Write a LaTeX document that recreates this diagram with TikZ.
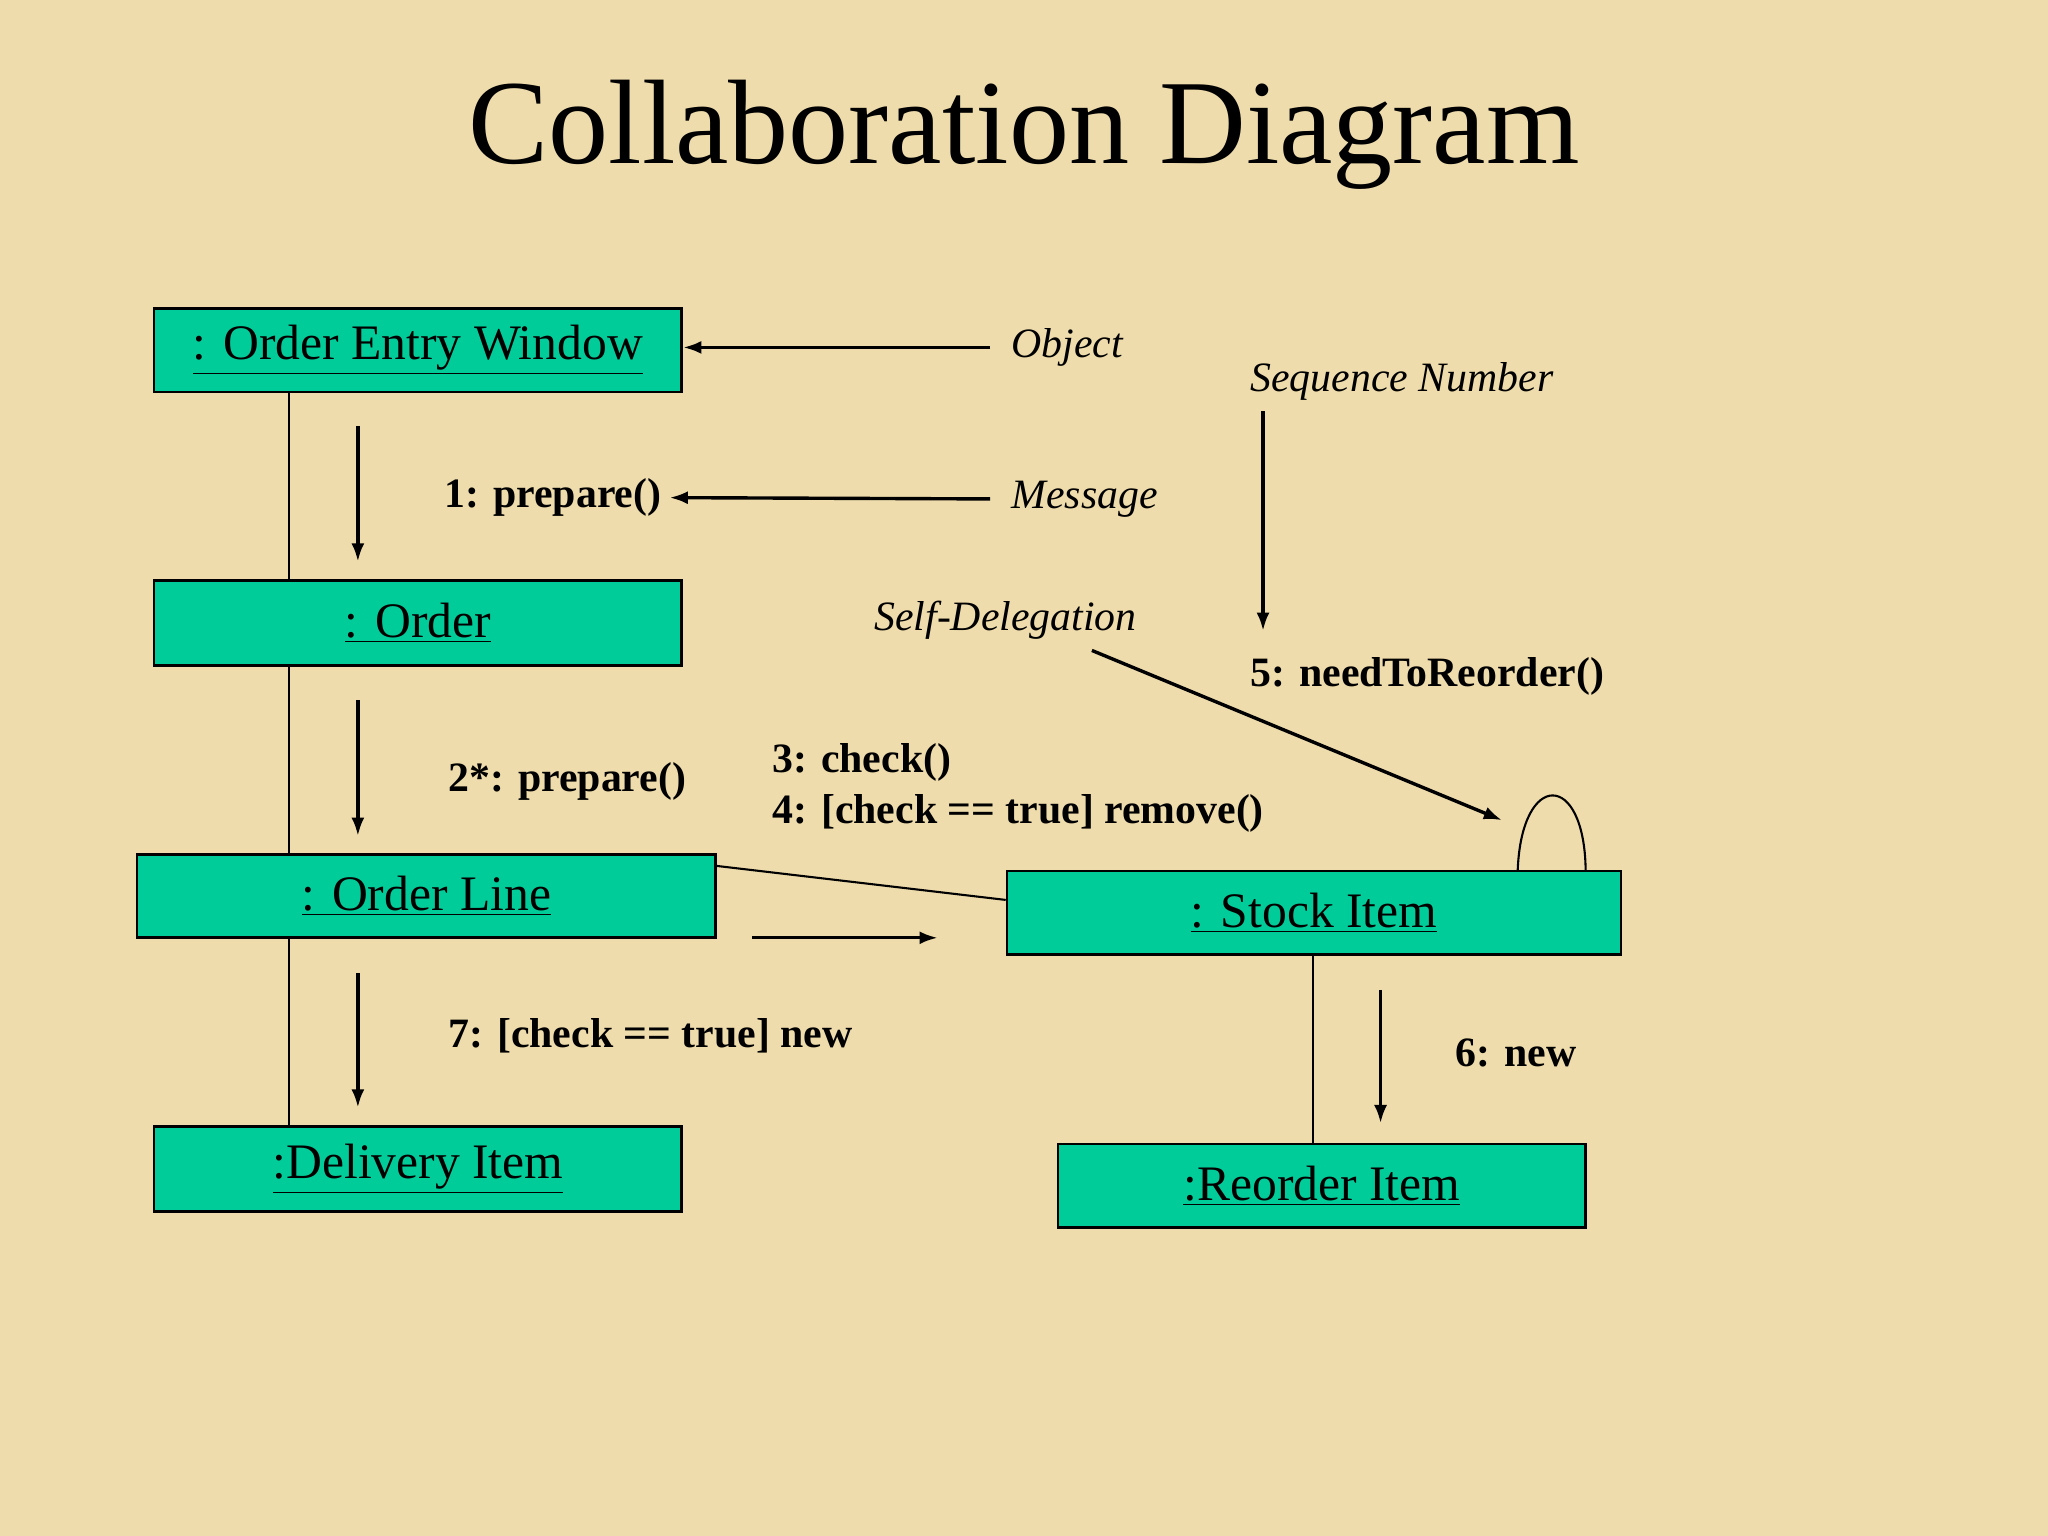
\documentclass[tikz,border=0pt]{standalone}
\usepackage{fontspec}
\setmainfont{Liberation Serif}
\usetikzlibrary{arrows.meta}
\definecolor{bg}{RGB}{238,220,172}
\definecolor{teal}{RGB}{0,204,153}
\begin{document}
\begin{tikzpicture}[x=0.5pt,y=-0.5pt,
  box/.style={draw=black,fill=teal,line width=1pt,inner sep=0pt,font=\fontsize{19}{22}\selectfont},
  msg/.style={-{Latex[length=7pt,width=5pt]},line width=1.3pt},
  lbl/.style={font=\bfseries\fontsize{16}{19}\selectfont,inner sep=0pt},
  note/.style={font=\itshape\fontsize{16}{19}\selectfont,inner sep=0pt},
  link/.style={line width=0.8pt}]
\fill[bg] (0,0) rectangle (1568,1176);
\useasboundingbox (0,0) rectangle (1568,1176);
\node[font=\fontsize{46}{52}\selectfont] (title) at (784,103) {Collaboration Diagram};
\node[box,minimum width=202pt,minimum height=32pt] (oew) at (320,268) {\underline{: Order Entry Window}};
\node[box,minimum width=202pt,minimum height=32.5pt] (order) at (320,477) {\underline{: Order}};
\node[box,minimum width=221.5pt,minimum height=32pt] (ol) at (326.5,686) {\underline{: Order Line}};
\node[box,minimum width=202pt,minimum height=32.5pt] (di) at (320,895) {\underline{:Delivery Item}};
\node[box,minimum width=235pt,minimum height=32pt] (si) at (1006,699) {\underline{: Stock Item}};
\node[box,minimum width=202pt,minimum height=32pt] (ri) at (1012,908) {\underline{:Reorder Item}};
% links
\draw[link] ([xshift=52pt]oew.south west) -- ([xshift=52pt]order.north west);
\draw[link] ([xshift=52pt]order.south west) -- ([xshift=58.5pt]ol.north west);
\draw[link] ([xshift=58.5pt]ol.south west) -- ([xshift=52pt]di.north west);
\draw[link] ([xshift=117.5pt]si.south west) -- ([xshift=98pt]ri.north west);
\draw[link] ([yshift=-5pt]ol.north east) -- ([yshift=-11.5pt]si.north west);
\draw[link] ([xshift=196pt]si.north west) .. controls (1165,590) and (1213,590) .. ([xshift=222pt]si.north west);
% message arrows
\coordinate (a1s) at (274,326); \coordinate (a1e) at (274,430);
\coordinate (a2s) at (274,536); \coordinate (a2e) at (274,640);
\coordinate (a7s) at (274,745); \coordinate (a7e) at (274,848);
\coordinate (a6s) at (1057,758); \coordinate (a6e) at (1057,860);
\coordinate (a3s) at (576,718); \coordinate (a3e) at (718,718);
\draw[msg] (a1s) -- (a1e);
\draw[msg] (a2s) -- (a2e);
\draw[msg] (a7s) -- (a7e);
\draw[msg] (a6s) -- (a6e);
\draw[msg] (a3s) -- (a3e);
% labels
\node[lbl,anchor=west] (l1) at (340,381) {1: prepare()};
\node[lbl,anchor=west] (l2) at (343,598) {2*: prepare()};
\node[lbl,anchor=west] (l3) at (591,584) {3: check()};
\node[lbl,anchor=west] (l4) at (591,623) {4: [check == true] remove()};
\node[lbl,anchor=west] (l5) at (957,518) {5: needToReorder()};
\node[lbl,anchor=west] (l6) at (1114,806) {6: new};
\node[lbl,anchor=west] (l7) at (343,793) {7: [check == true] new};
% notes
\node[note,anchor=west] (nobj) at (774,266) {Object};
\node[note,anchor=west] (nmsg) at (774,382) {Message};
\node[note,anchor=west] (nseq) at (957,292) {Sequence Number};
\node[note,anchor=west] (nsd) at (669,475) {Self-Delegation};
\draw[msg] ([xshift=-8pt]nobj.west) -- (oew.east |- nobj.west);
\draw[msg] ([xshift=-8pt]nmsg.west) -- ([xshift=3pt]l1.east);
\coordinate (sqs) at (967,315); \coordinate (sqe) at (967,483);
\draw[msg] (sqs) -- (sqe);
\coordinate (sds) at (836,498); \coordinate (sde) at (1150,628);
\draw[msg] (sds) -- (sde);
\end{tikzpicture}
\end{document}
